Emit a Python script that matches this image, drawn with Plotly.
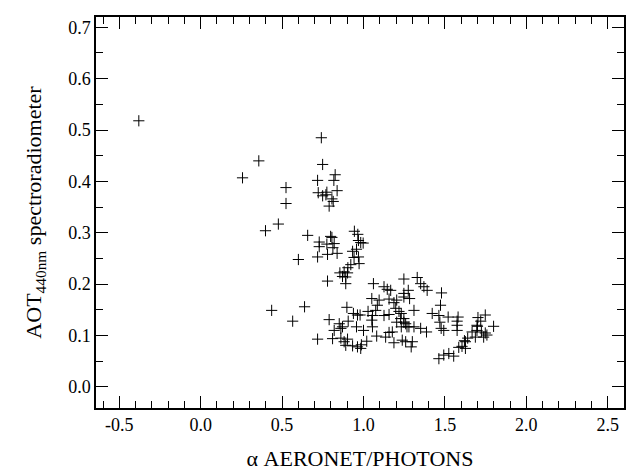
import plotly.graph_objects as go

# Angstrom exponent (x) and AOT at 440 nm (y)
alpha = [
    -0.380, 0.357, 0.257, 0.524, 0.524, 0.477, 0.398, 0.741, 0.749, 0.826,
    0.818, 0.718, 0.722, 0.749, 0.775, 0.769, 0.838, 0.806, 0.814, 0.789,
    0.657, 0.600, 0.798, 0.806, 0.728, 0.728, 0.775, 0.820, 0.812, 0.718,
    0.779, 0.838, 0.944, 0.965, 0.969, 0.983, 0.998, 0.957, 0.933, 0.942,
    0.969, 0.973, 0.922, 0.904, 0.881, 0.855, 0.902, 0.871, 0.891, 0.891,
    0.779, 1.061, 1.248, 1.330, 1.351, 1.371, 1.391, 1.126, 1.146, 1.167,
    1.275, 1.248, 1.479, 0.436, 0.638, 0.565, 0.718,
    0.789, 0.898, 1.051, 1.096, 1.157, 1.204, 1.248, 1.283,
    0.938, 0.963, 0.979, 1.028, 1.075, 1.055, 1.051,
    1.126, 1.157, 1.187, 1.198, 1.218, 1.232, 1.228, 1.248,
    1.259, 1.279, 1.310, 1.310, 1.351, 1.387, 1.422,
    1.463, 1.469, 1.477, 1.473,
    0.851, 0.861, 0.871, 0.820, 0.906, 0.810, 0.861,
    0.881, 0.891, 0.902, 0.933, 0.963, 0.983, 0.987, 1.020,
    0.957, 1.000, 1.055, 1.081, 1.136, 1.157, 1.177, 1.187,
    1.238, 1.259, 1.300, 1.293, 1.232, 1.267, 1.204, 1.248,
    1.463, 1.085,
    1.520, 1.581, 1.703, 1.748, 1.493, 1.575, 1.575, 1.575, 1.697, 1.724,
    1.758, 1.799, 1.493, 1.524, 1.554, 1.585, 1.605, 1.626, 1.626, 1.667,
    1.687, 1.738, 1.748, 1.697, 1.620, 1.640, 1.720, 1.700,
]
aot = [
    0.518, 0.440, 0.407, 0.388, 0.357, 0.317, 0.304, 0.485, 0.433, 0.413,
    0.402, 0.402, 0.378, 0.372, 0.379, 0.374, 0.382, 0.366, 0.361, 0.352,
    0.295, 0.248, 0.293, 0.291, 0.282, 0.273, 0.278, 0.279, 0.271, 0.253,
    0.258, 0.260, 0.303, 0.297, 0.285, 0.281, 0.280, 0.268, 0.264, 0.252,
    0.253, 0.240, 0.238, 0.232, 0.224, 0.222, 0.222, 0.215, 0.214, 0.201,
    0.206, 0.201, 0.210, 0.213, 0.201, 0.195, 0.188, 0.195, 0.190, 0.188,
    0.188, 0.182, 0.183, 0.149, 0.156, 0.128, 0.093,
    0.131, 0.155, 0.172, 0.169, 0.171, 0.169, 0.175, 0.172,
    0.143, 0.140, 0.140, 0.147, 0.149, 0.139, 0.130,
    0.139, 0.141, 0.164, 0.153, 0.147, 0.143, 0.133, 0.133,
    0.123, 0.117, 0.149, 0.117, 0.114, 0.107, 0.143,
    0.139, 0.126, 0.114, 0.159,
    0.123, 0.114, 0.117, 0.110, 0.128, 0.094, 0.095,
    0.088, 0.081, 0.093, 0.080, 0.078, 0.075, 0.082, 0.089,
    0.117, 0.110, 0.117, 0.099, 0.097, 0.106, 0.107, 0.086,
    0.091, 0.088, 0.088, 0.078, 0.117, 0.117, 0.126, 0.126,
    0.055, 0.159,
    0.136, 0.136, 0.135, 0.140, 0.110, 0.128, 0.120, 0.110, 0.110, 0.107,
    0.101, 0.118, 0.062, 0.065, 0.060, 0.077, 0.079, 0.088, 0.075, 0.107,
    0.097, 0.097, 0.105, 0.120, 0.090, 0.095, 0.128, 0.118,
]

x_ticks = [-0.5, 0.0, 0.5, 1.0, 1.5, 2.0, 2.5]
y_ticks = [0.0, 0.1, 0.2, 0.3, 0.4, 0.5, 0.6, 0.7]

FONT = "Liberation Serif"

fig = go.Figure()
fig.add_trace(go.Scatter(
    x=alpha, y=aot, mode="markers",
    marker=dict(symbol="cross-thin", size=8, line=dict(color="black", width=1)),
    showlegend=False,
))

axis_common = dict(
    showline=True, linecolor="black", linewidth=1.5, mirror="allticks",
    ticks="inside", ticklen=12, tickwidth=1, tickcolor="black",
    showgrid=False, zeroline=False,
    tickfont=dict(family=FONT, size=18, color="black"),
)

fig.update_xaxes(
    range=[-0.643, 2.6], tickvals=x_ticks,
    ticktext=[f"{v:.1f}" for v in x_ticks],
    minor=dict(dtick=0.1, tick0=0, ticks="inside", ticklen=7, tickwidth=1, tickcolor="black", showgrid=False),
    title=dict(text="α AERONET/PHOTONS", font=dict(family=FONT, size=22, color="black"), standoff=16),
    **axis_common,
)
fig.update_yaxes(
    range=[-0.041, 0.72], tickvals=y_ticks,
    ticktext=[f"{v:.1f}" for v in y_ticks],
    minor=dict(dtick=0.05, tick0=0, ticks="inside", ticklen=7, tickwidth=1, tickcolor="black", showgrid=False),
    title=dict(text="AOT<sub>440nm</sub> spectroradiometer", font=dict(family=FONT, size=22, color="black"), standoff=20),
    **axis_common,
)

fig.update_layout(
    width=628, height=475,
    margin=dict(l=96, r=2, t=17, b=67),
    paper_bgcolor="white", plot_bgcolor="white",
    font=dict(family=FONT, color="black"),
)

fig.write_html(
    "out.html",
    config={"displayModeBar": False},
    post_script="document.documentElement.style.margin='0';document.body.style.margin='0';document.body.style.overflow='hidden';",
)
